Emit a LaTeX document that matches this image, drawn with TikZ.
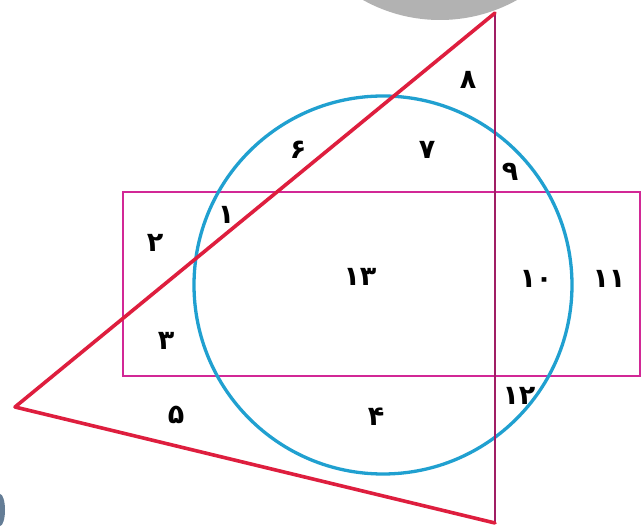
\documentclass[tikz,border=0pt]{standalone}
\usepackage{fontspec}
\newfontfamily\fadigits{DejaVu Sans}
\definecolor{redline}{RGB}{222,30,62}
\definecolor{blueline}{RGB}{32,160,208}
\definecolor{rectline}{RGB}{210,40,150}
\definecolor{vertline}{RGB}{160,30,100}
\definecolor{graydisc}{RGB}{178,178,178}
\definecolor{bluespot}{RGB}{100,125,150}
\begin{document}
\begin{tikzpicture}[x=1pt,y=-1pt,
  lbl/.style={font=\fadigits\bfseries\fontsize{27}{27}\selectfont, inner sep=0pt},
  redl/.style={draw=redline, line width=3.6pt, line join=round, line cap=round},
  bluel/.style={draw=blueline, line width=3.3pt},
  rectl/.style={draw=rectline, line width=2pt},
  vertl/.style={draw=vertline, line width=2pt}]
\useasboundingbox[fill=white] (0,0) rectangle (641,529);
\begin{scope}
\clip (0,0) rectangle (641,529);
\fill[graydisc] (440,-138) circle (158);
\fill[bluespot] (0,510) ellipse (5 and 16);
\end{scope}
% rectangle
\draw[rectl] (123,192) rectangle (640,376);
% circle
\draw[bluel] (383,285) circle (189);
% triangle
\coordinate (A) at (495,13);
\coordinate (B) at (15,407);
\coordinate (C) at (495,523);
\draw[vertl] (A) -- (C);
\draw[redl] (A) -- (B) -- (C);
% labels
\node[lbl] (l8) at (468,80) {۸};
\node[lbl] (l6) at (298,150) {۶};
\node[lbl] (l7) at (427,150) {۷};
\node[lbl] (l9) at (510,172) {۹};
\node[lbl] (l1) at (226,215) {۱};
\node[lbl] (l2) at (155,243) {۲};
\node[lbl] (l13) at (360,277) {۱۳};
\node[lbl] (l10) at (536,279) {۱۰};
\node[lbl] (l11) at (609,279) {۱۱};
\node[lbl] (l3) at (166,341) {۳};
\node[lbl] (l5) at (176,415) {۵};
\node[lbl] (l4) at (376,417) {۴};
\node[lbl] (l12) at (519,396) {۱۲};
\end{tikzpicture}
\end{document}
